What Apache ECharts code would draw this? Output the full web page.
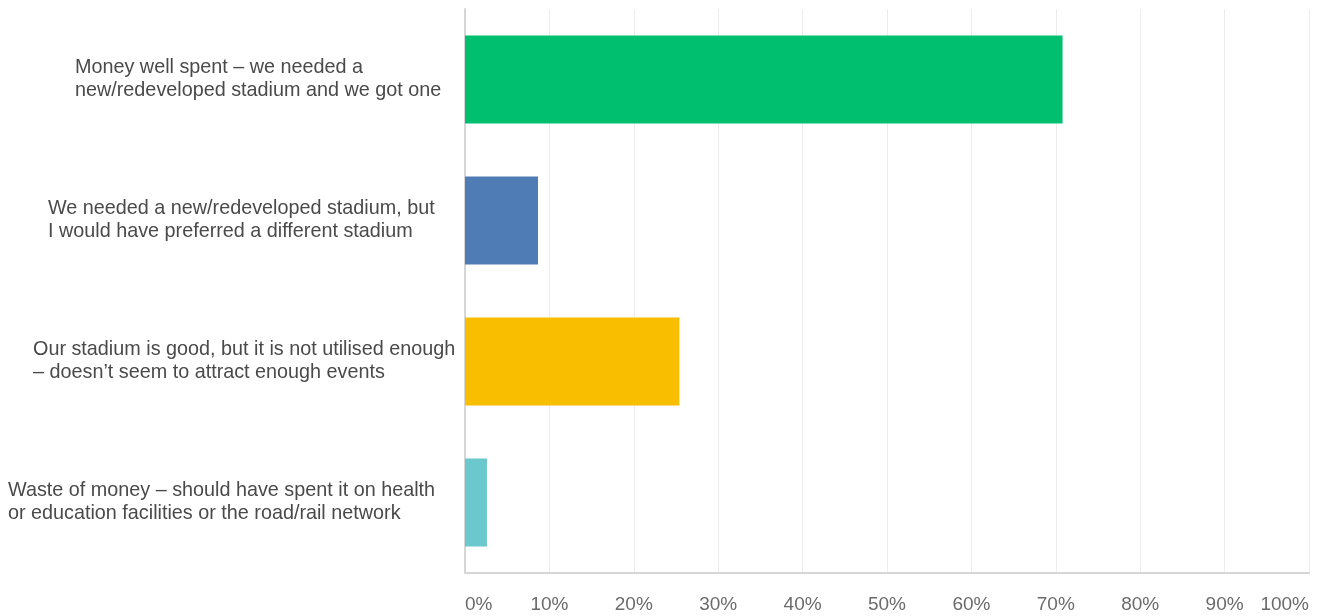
<!DOCTYPE html>
<html>
<head>
<meta charset="utf-8">
<script src="https://cdn.jsdelivr.net/npm/echarts@6/dist/echarts.min.js"></script>
<style>
html,body{margin:0;padding:0;background:#fff;}
#c{width:1322px;height:616px;}
</style>
</head>
<body>
<div id="c"></div>
<script>
const categories = [
  "Money well spent – we needed a\nnew/redeveloped stadium and we got one",
  "We needed a new/redeveloped stadium, but\nI would have preferred a different stadium",
  "Our stadium is good, but it is not utilised enough\n– doesn’t seem to attract enough events",
  "Waste of money – should have spent it on health\nor education facilities or the road/rail network"
];
const values = [70.8, 8.65, 25.4, 2.6];
const barColors = ["#00bf6f", "#507cb6", "#f9be00", "#6bc8cd"];
const labelIndent = [67, 40, 25, 0];

const FONT = "'Liberation Sans', Arial, sans-serif";
const rich = {};
labelIndent.forEach((p, i) => {
  rich['c' + i] = { padding: [0, 0, 0, p], fontFamily: FONT, fontSize: 19.8, lineHeight: 23, color: '#4a4a4a', align: 'left' };
});

const chart = echarts.init(document.getElementById('c'), null, { renderer: 'canvas' });
chart.setOption({
  animation: false,
  grid: { left: 465, right: 13, top: 9, bottom: 43, containLabel: false },
  xAxis: {
    type: 'value', min: 0, max: 100, interval: 10,
    axisLine: { show: true, lineStyle: { color: '#d6d6d6', width: 2 } },
    axisTick: { show: false },
    splitLine: { show: true, lineStyle: { color: '#ececec', width: 1 } },
    axisLabel: {
      formatter: '{value}%', margin: 22, color: '#6b6b6b',
      fontFamily: FONT, fontSize: 19,
      alignMinLabel: 'left', alignMaxLabel: 'right'
    }
  },
  yAxis: {
    type: 'category', data: categories, inverse: true,
    axisLine: { show: true, lineStyle: { color: '#d6d6d6', width: 2 } },
    axisTick: { show: false },
    splitLine: { show: false },
    axisLabel: {
      align: 'left', margin: 457,
      formatter: function (v, idx) {
        return v.split('\n').map(l => '{c' + idx + '|' + l + '}').join('\n');
      },
      rich: rich
    }
  },
  series: [{
    type: 'bar',
    barWidth: 88,
    data: values.map((v, i) => ({ value: v, itemStyle: { color: barColors[i] } }))
  }]
});
</script>
</body>
</html>
